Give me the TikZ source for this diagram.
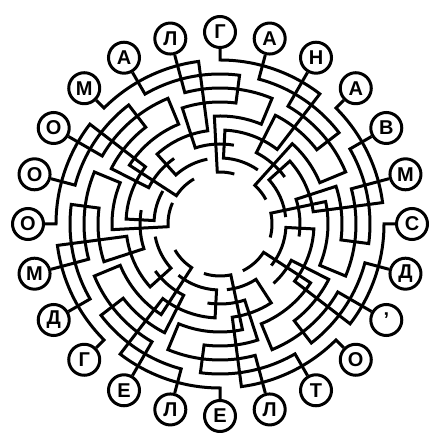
\documentclass[tikz,border=0pt]{standalone}
\usepackage{fontspec}
\setmainfont{Liberation Sans}
\tikzset{
  letter/.style={circle, draw, line width=3pt, minimum size=31pt, inner sep=0pt, fill=white, font=\bfseries\fontsize{20}{20}\selectfont},
  wire/.style={line width=3pt}
}

\begin{document}
\begin{tikzpicture}[x=1pt,y=1pt]
  \useasboundingbox (0,0) rectangle (430,433);
  \begin{scope}[shift={(220,209)}]
  % letters round the rim
  \node[letter] (l1) at (90:192) {Г};
  \node[letter] (l2) at (75:192) {А};
  \node[letter] (l3) at (60:192) {Н};
  \node[letter] (l4) at (45:192) {А};
  \node[letter] (l5) at (30:192) {В};
  \node[letter] (l6) at (15:192) {М};
  \node[letter] (l7) at (0:192) {С};
  \node[letter] (l8) at (-15:192) {Д};
  \node[letter] (l9) at (-30:192) {’};
  \node[letter] (l10) at (-45:192) {О};
  \node[letter] (l11) at (-60:192) {Т};
  \node[letter] (l12) at (-75:192) {Л};
  \node[letter] (l13) at (-90:192) {Е};
  \node[letter] (l14) at (-105:192) {Л};
  \node[letter] (l15) at (-120:192) {Е};
  \node[letter] (l16) at (-135:192) {Г};
  \node[letter] (l17) at (-150:192) {Д};
  \node[letter] (l18) at (-165:192) {М};
  \node[letter] (l19) at (-180:192) {О};
  \node[letter] (l20) at (-195:192) {О};
  \node[letter] (l21) at (-210:192) {О};
  \node[letter] (l22) at (-225:192) {М};
  \node[letter] (l23) at (-240:192) {А};
  \node[letter] (l24) at (-255:192) {Л};
  % tangled lines, each from its letter to the middle
  \draw[wire] (l1) -- (90:164) arc[start angle=90, end angle=52.5, radius=164] -- (52.5:94) arc[start angle=52.5, end angle=87, radius=94] -- (87:66) arc[start angle=87, end angle=55, radius=66];
  \draw[wire] (l2) -- (75:150) arc[start angle=75, end angle=37.5, radius=150] -- (37.5:122) arc[start angle=37.5, end angle=63, radius=122] -- (63:80) arc[start angle=63, end angle=36, radius=80];
  \draw[wire] (l3) -- (60:136) arc[start angle=60, end angle=22.5, radius=136] -- (22.5:108) arc[start angle=22.5, end angle=48, radius=108] -- (48:52) arc[start angle=48, end angle=28, radius=52];
  \draw[wire] (l4) -- (45:164) arc[start angle=45, end angle=7.5, radius=164] -- (7.5:94) arc[start angle=7.5, end angle=42, radius=94] -- (42:66) arc[start angle=42, end angle=6, radius=66];
  \draw[wire] (l5) -- (30:150) arc[start angle=30, end angle=-7.5, radius=150] -- (-7.5:122) arc[start angle=-7.5, end angle=18, radius=122] -- (18:80) arc[start angle=18, end angle=-9, radius=80];
  \draw[wire] (l6) -- (15:136) arc[start angle=15, end angle=-22.5, radius=136] -- (-22.5:108) arc[start angle=-22.5, end angle=12, radius=108] -- (12:52) arc[start angle=12, end angle=-15, radius=52];
  \draw[wire] (l7) -- (0:164) arc[start angle=0, end angle=-37.5, radius=164] -- (-37.5:94) arc[start angle=-37.5, end angle=-3, radius=94] -- (-3:66) arc[start angle=-3, end angle=-39, radius=66];
  \draw[wire] (l8) -- (-15:150) arc[start angle=-15, end angle=-52.5, radius=150] -- (-52.5:122) arc[start angle=-52.5, end angle=-27, radius=122] -- (-27:80) arc[start angle=-27, end angle=-48, radius=80];
  \draw[wire] (l9) -- (-30:136) arc[start angle=-30, end angle=-67.5, radius=136] -- (-67.5:108) arc[start angle=-67.5, end angle=-33, radius=108] -- (-33:52) arc[start angle=-33, end angle=-64, radius=52];
  \draw[wire] (l10) -- (-45:164) arc[start angle=-45, end angle=-82.5, radius=164] -- (-82.5:94) arc[start angle=-82.5, end angle=-57, radius=94] -- (-57:66) arc[start angle=-57, end angle=-84, radius=66];
  \draw[wire] (l11) -- (-60:150) arc[start angle=-60, end angle=-97.5, radius=150] -- (-97.5:122) arc[start angle=-97.5, end angle=-72, radius=122] -- (-72:80) arc[start angle=-72, end angle=-99, radius=80];
  \draw[wire] (l12) -- (-75:136) arc[start angle=-75, end angle=-112.5, radius=136] -- (-112.5:108) arc[start angle=-112.5, end angle=-78, radius=108] -- (-78:52) arc[start angle=-78, end angle=-108, radius=52];
  \draw[wire] (l13) -- (-90:164) arc[start angle=-90, end angle=-127.5, radius=164] -- (-127.5:94) arc[start angle=-127.5, end angle=-93, radius=94] -- (-93:66) arc[start angle=-93, end angle=-129, radius=66];
  \draw[wire] (l14) -- (-105:150) arc[start angle=-105, end angle=-142.5, radius=150] -- (-142.5:122) arc[start angle=-142.5, end angle=-117, radius=122] -- (-117:80) arc[start angle=-117, end angle=-144, radius=80];
  \draw[wire] (l15) -- (-120:136) arc[start angle=-120, end angle=-157.5, radius=136] -- (-157.5:108) arc[start angle=-157.5, end angle=-123, radius=108] -- (-123:52) arc[start angle=-123, end angle=-150, radius=52];
  \draw[wire] (l16) -- (-135:164) arc[start angle=-135, end angle=-172.5, radius=164] -- (-172.5:94) arc[start angle=-172.5, end angle=-138, radius=94] -- (-138:66) arc[start angle=-138, end angle=-169, radius=66];
  \draw[wire] (l17) -- (-150:150) arc[start angle=-150, end angle=-187.5, radius=150] -- (-187.5:122) arc[start angle=-187.5, end angle=-162, radius=122] -- (-162:80) arc[start angle=-162, end angle=-190, radius=80];
  \draw[wire] (l18) -- (-165:136) arc[start angle=-165, end angle=-202.5, radius=136] -- (-202.5:108) arc[start angle=-202.5, end angle=-177, radius=108] -- (-177:52) arc[start angle=-177, end angle=-204, radius=52];
  \draw[wire] (l19) -- (-180:164) arc[start angle=-180, end angle=-217.5, radius=164] -- (-217.5:94) arc[start angle=-217.5, end angle=-183, radius=94] -- (-183:66) arc[start angle=-183, end angle=-210, radius=66];
  \draw[wire] (l20) -- (-195:150) arc[start angle=-195, end angle=-232.5, radius=150] -- (-232.5:122) arc[start angle=-232.5, end angle=-207, radius=122] -- (-207:80) arc[start angle=-207, end angle=-235, radius=80];
  \draw[wire] (l21) -- (-210:136) arc[start angle=-210, end angle=-247.5, radius=136] -- (-247.5:108) arc[start angle=-247.5, end angle=-213, radius=108] -- (-213:52) arc[start angle=-213, end angle=-240, radius=52];
  \draw[wire] (l22) -- (-225:164) arc[start angle=-225, end angle=-262.5, radius=164] -- (-262.5:94) arc[start angle=-262.5, end angle=-228, radius=94] -- (-228:66) arc[start angle=-228, end angle=-259, radius=66];
  \draw[wire] (l23) -- (-240:150) arc[start angle=-240, end angle=-277.5, radius=150] -- (-277.5:122) arc[start angle=-277.5, end angle=-252, radius=122] -- (-252:80) arc[start angle=-252, end angle=-280, radius=80];
  \draw[wire] (l24) -- (-255:136) arc[start angle=-255, end angle=-292.5, radius=136] -- (-292.5:108) arc[start angle=-292.5, end angle=-267, radius=108] -- (-267:52) arc[start angle=-267, end angle=-286, radius=52];
  \end{scope}
\end{tikzpicture}
\end{document}
